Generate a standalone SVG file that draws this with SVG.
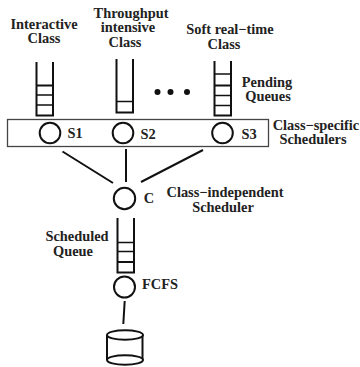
<svg xmlns="http://www.w3.org/2000/svg" width="360" height="367" viewBox="0 0 360 367">
<style>
text{font-family:"Liberation Serif","Times New Roman",serif;font-weight:bold;font-size:14.4px;fill:#222;text-anchor:middle}
.l{fill:none;stroke:#111;stroke-width:2}
.t{fill:none;stroke:#111;stroke-width:1.5}
.c{fill:#fff;stroke:#111;stroke-width:2}
</style>
<rect width="360" height="367" fill="#fff"/>
<g id="labels">
<text x="44" y="29">Interactive</text><text x="44" y="43">Class</text>
<text x="131" y="18">Throughput</text><text x="128" y="32">intensive</text><text x="125" y="47">Class</text>
<text x="230" y="34">Soft real−time</text><text x="224" y="49">Class</text>
<text x="267" y="87">Pending</text><text x="268" y="101">Queues</text>
<text x="316" y="130">Class−specific</text><text x="313" y="144">Schedulers</text>
<text x="225" y="197">Class−independent</text><text x="223" y="212">Scheduler</text>
<text x="77" y="241">Scheduled</text><text x="73" y="256">Queue</text>
</g>
<g id="queue-interactive"><path class="l" d="M36.500 62V115.500H53V62M36.500 85.500H53"/><path class="t" d="M36.500 95H53M36.500 105H53"/></g>
<g id="queue-throughput"><path class="l" d="M116.500 59V112.500H133V59"/><path class="t" d="M116.500 101.500H133"/></g>
<g id="dots"><circle cx="157.500" cy="92" r="3" fill="#111"/><circle cx="170.500" cy="92" r="3" fill="#111"/><circle cx="187" cy="92" r="3" fill="#111"/></g>
<g id="queue-soft"><path class="l" d="M214.500 61V115.500H231V61M214.500 85.500H231"/><path class="t" d="M214.500 74H231M214.500 95.500H231M214.500 105.500H231"/></g>
<g id="class-specific-box"><rect x="7.500" y="119.500" width="261" height="27" fill="#fff" stroke="#444" stroke-width="1.300"/></g>
<g id="S1"><circle class="c" cx="50" cy="133" r="10.300"/><text x="75" y="138">S1</text></g>
<g id="S2"><circle class="c" cx="123" cy="133" r="10.300"/><text x="148" y="139">S2</text></g>
<g id="S3"><circle class="c" cx="222.500" cy="133" r="10.300"/><text x="249" y="139">S3</text></g>
<g id="connectors">
<path class="l" d="M62.500 151.500L113 183M126 149V182M203 150L141 182M124.700 301L123.300 324"/>
</g>
<g id="C"><circle class="c" cx="124.500" cy="198.500" r="10.700"/><text x="149" y="203">C</text></g>
<g id="queue-scheduled"><path class="l" d="M117.500 218V272.500H134V218M117.500 262H134"/><path class="t" d="M117.500 242.500H134M117.500 251.500H134"/></g>
<g id="FCFS"><circle class="c" cx="124.500" cy="287" r="10.500"/><text x="160" y="289">FCFS</text></g>
<g id="disk">
<path class="l" d="M107 335V360M142.500 335V360"/>
<ellipse class="c" cx="125" cy="335" rx="18" ry="4.800"/>
<ellipse class="c" cx="125" cy="360" rx="18" ry="4.800"/>
</g>
</svg>
